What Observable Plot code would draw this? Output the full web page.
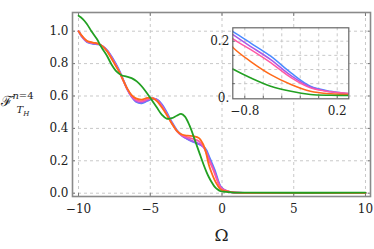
<!DOCTYPE html>
<html><head><meta charset="utf-8">
<script src="https://cdn.jsdelivr.net/npm/d3@7"></script>
<script src="https://cdn.jsdelivr.net/npm/@observablehq/plot@0.6"></script>
<style>
body{margin:0;background:#fff}
#wrap{position:relative;width:374px;height:249px;font-family:"DejaVu Serif",serif}
#wrap svg{position:absolute;left:0;top:0;overflow:visible}
#wrap svg.inset{left:200px;top:20px}
#wrap svg text{font-family:"DejaVu Serif",serif}
</style>
</head><body><div id="wrap"></div>
<script>
// ---- data ----
const xs = [-10, -9.7, -9.4, -9.0, -8.6, -8.3, -8.0, -7.6, -7.2, -6.9, -6.6, -6.3, -6.0, -5.6, -5.2, -4.8, -4.5, -4.2, -3.9, -3.5, -3.15, -2.8, -2.4, -2.0, -1.6, -1.3, -1.1, -0.92, -0.74, -0.52, -0.3, -0.09, 0.13, 0.31, 0.6, 1.0, 2.0, 10];
const blueY   = [1.0, 0.958, 0.932, 0.922, 0.918, 0.905, 0.882, 0.83, 0.765, 0.705, 0.642, 0.595, 0.565, 0.555, 0.57, 0.583, 0.577, 0.55, 0.507, 0.44, 0.39, 0.357, 0.333, 0.316, 0.302, 0.288, 0.268, 0.232, 0.194, 0.147, 0.088, 0.041, 0.023, 0.015, 0.007, 0.003, 0.002, 0.002];
const purpleY = [1.0, 0.96, 0.935, 0.925, 0.92, 0.905, 0.88, 0.825, 0.76, 0.70, 0.64, 0.595, 0.568, 0.56, 0.575, 0.585, 0.575, 0.545, 0.50, 0.435, 0.385, 0.355, 0.335, 0.32, 0.305, 0.285, 0.26, 0.221, 0.182, 0.135, 0.078, 0.038, 0.021, 0.014, 0.006, 0.003, 0.002, 0.002];
const pinkY   = [1.0, 0.962, 0.937, 0.927, 0.921, 0.905, 0.878, 0.82, 0.758, 0.70, 0.642, 0.60, 0.575, 0.568, 0.58, 0.585, 0.57, 0.538, 0.495, 0.432, 0.385, 0.358, 0.345, 0.335, 0.32, 0.29, 0.25, 0.206, 0.171, 0.124, 0.071, 0.035, 0.021, 0.016, 0.007, 0.003, 0.002, 0.002];
const orangeY = [1.0, 0.965, 0.94, 0.93, 0.922, 0.905, 0.875, 0.815, 0.755, 0.70, 0.645, 0.605, 0.585, 0.578, 0.588, 0.585, 0.565, 0.53, 0.49, 0.43, 0.385, 0.362, 0.355, 0.352, 0.34, 0.30, 0.245, 0.175, 0.129, 0.082, 0.047, 0.023, 0.014, 0.012, 0.006, 0.003, 0.002, 0.002];
const greenX  = [-10, -9.7, -9.43, -9.1, -8.73, -8.4, -8.03, -7.7, -7.34, -7.0, -6.64, -6.3, -5.94, -5.6, -5.25, -4.9, -4.55, -4.2, -3.86, -3.5, -3.16, -2.85, -2.58, -2.25, -1.9, -1.6, -1.3, -1.1, -0.92, -0.74, -0.52, -0.3, -0.09, 0.13, 0.31, 0.6, 1.0, 2.0, 10];
const greenY  = [1.095, 1.075, 1.046, 1.0, 0.953, 0.90, 0.85, 0.795, 0.75, 0.728, 0.72, 0.71, 0.69, 0.66, 0.62, 0.575, 0.53, 0.485, 0.46, 0.463, 0.478, 0.49, 0.473, 0.415, 0.33, 0.255, 0.18, 0.135, 0.10, 0.071, 0.041, 0.023, 0.012, 0.009, 0.008, 0.006, 0.004, 0.003, 0.003];

const xTicks = [-10, -5, 0, 5, 10];
const yTicks = [0, 0.2, 0.4, 0.6, 0.8, 1.0];
const insetXGrid = [-0.8, -0.6, -0.4, -0.2, 0, 0.2];
const insetYGrid = [0.05, 0.1, 0.15, 0.2];
const insetXTicks = [-0.8, 0.2];
const insetYTicks = [0, 0.2];

// ---- styles ----
const colors = {blue: "#4a8bff", purple: "#a85ae8", pink: "#ff5aa5", orange: "#ff6a1a", green: "#22a022"};
const series = [
  {name: "blue", x: xs, y: blueY},
  {name: "purple", x: xs, y: purpleY},
  {name: "pink", x: xs, y: pinkY},
  {name: "orange", x: xs, y: orangeY},
  {name: "green", x: greenX, y: greenY}
];
const rows = series.flatMap(s => s.x.map((x, i) => ({s: s.name, x, y: s.y[i]})));
const minus = d => d < 0 ? "\u2212" + Math.abs(d) : String(d);
const gridStyle = {stroke: "#c8c8c8", strokeOpacity: 1, strokeDasharray: "3,3", strokeWidth: 1};

const lineMarks = (w) => series.map(s => Plot.line(rows.filter(r => r.s === s.name), {x: "x", y: "y", stroke: colors[s.name], strokeWidth: w, curve: "catmull-rom"}));

const main = Plot.plot({
  width: 374, height: 249,
  marginLeft: 72, marginRight: 4, marginTop: 12, marginBottom: 53,
  style: {fontSize: "12px", background: "transparent", color: "#222"},
  x: {domain: [-10.42, 10.35]},
  y: {domain: [-0.0204, 1.1154]},
  marks: [
    Plot.gridX(xTicks, gridStyle),
    Plot.gridY(yTicks, gridStyle),
    Plot.axisX(xTicks, {anchor: "bottom", tickSize: 0, tickPadding: 7.5, tickFormat: minus, label: null, fontSize: 12}),
    Plot.axisY(yTicks, {anchor: "left", tickSize: 0, tickPadding: 4, tickFormat: d3.format(".1f"), label: null, fontSize: 12}),
    Plot.axisX(xTicks, {anchor: "bottom", tickSize: -3, tickFormat: () => "", label: null, stroke: "#777"}),
    Plot.axisX(xTicks, {anchor: "top", tickSize: -3, tickFormat: () => "", label: null, stroke: "#777"}),
    Plot.axisY(yTicks, {anchor: "left", tickSize: -3, tickFormat: () => "", label: null, stroke: "#777"}),
    Plot.axisY(yTicks, {anchor: "right", tickSize: -3, tickFormat: () => "", label: null, stroke: "#777"}),
    ...lineMarks(1.8),
    Plot.frame({stroke: "#8a8a8a", strokeWidth: 1.6})
  ]
});

const inset = Plot.plot({
  width: 160, height: 100,
  marginLeft: 32.3, marginRight: 11.7, marginTop: 7.3, marginBottom: 21.7,
  style: {fontSize: "12px", background: "transparent", color: "#222"},
  x: {domain: [-0.93, 0.3255]},
  y: {domain: [-0.0035, 0.2473]},
  clip: true,
  marks: [
    Plot.frame({fill: "white", stroke: null}),
    Plot.gridX(insetXGrid, gridStyle),
    Plot.gridY(insetYGrid, gridStyle),
    Plot.axisX(insetXTicks, {anchor: "bottom", tickSize: 0, tickPadding: 7.5, tickFormat: minus, label: null, fontSize: 12}),
    Plot.axisY(insetYTicks, {anchor: "left", tickSize: 0, tickPadding: 3.5, tickFormat: d => d === 0 ? "0." : String(d), label: null, fontSize: 12}),
    Plot.axisX(insetXGrid, {anchor: "bottom", tickSize: -2.5, tickFormat: () => "", label: null, stroke: "#666"}),
    Plot.axisY(insetYGrid, {anchor: "left", tickSize: -2.5, tickFormat: () => "", label: null, stroke: "#666"}),
    ...lineMarks(1.5),
    Plot.frame({stroke: "#666", strokeWidth: 1.2})
  ]
});
inset.classList.add("inset");

const wrap = document.getElementById("wrap");
wrap.appendChild(main);
wrap.appendChild(inset);

// axis titles as real text
const svg = d3.select(main);
const g = svg.append("g").attr("fill", "#222");
g.append("text").attr("x", 221.5).attr("y", 241).attr("text-anchor", "middle").style("font-size", "17px").text("Ω");
g.append("text").attr("x", 7).attr("y", 106).style("font-size", "14px").text("ℱ\u0307");
const sup = g.append("text").attr("x", 23).attr("y", 99).style("font-size", "10px");
sup.append("tspan").style("font-style", "italic").text("n");
sup.append("tspan").text("=4");
const sub = g.append("text").attr("x", 23).attr("y", 113).style("font-size", "10px");
sub.append("tspan").style("font-style", "italic").text("T");
sub.append("tspan").attr("dy", 2.5).style("font-size", "7px").style("font-style", "italic").text("H");
</script>
</body></html>
